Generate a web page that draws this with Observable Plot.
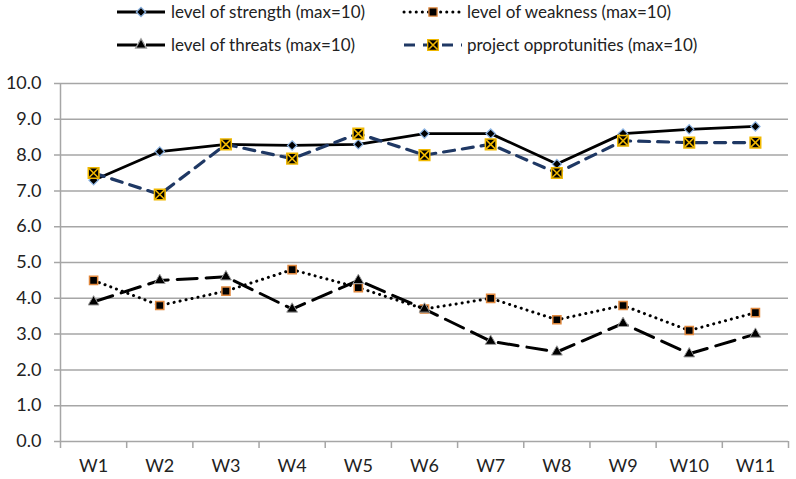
<!DOCTYPE html>
<html><head><meta charset="utf-8">
<script src="https://cdn.jsdelivr.net/npm/d3@7"></script>
<script src="https://cdn.jsdelivr.net/npm/@observablehq/plot@0.6"></script>
<style>
body{margin:0;background:#fff;font-family:Lato,sans-serif}
#wrap{position:relative;width:796px;height:479px}
#legend{position:absolute;left:0;top:0}
</style></head><body>
<div id="wrap"><div id="chart"></div><svg id="legend" width="796" height="62"></svg></div>
<script>
const weeks = ["W1","W2","W3","W4","W5","W6","W7","W8","W9","W10","W11"];
const strength = [7.3,8.1,8.3,8.27,8.3,8.6,8.6,7.75,8.6,8.72,8.8];
const weakness = [4.5,3.8,4.2,4.8,4.3,3.7,4.0,3.4,3.8,3.1,3.6];
const threats = [3.9,4.5,4.6,3.7,4.5,3.7,2.8,2.5,3.3,2.45,3.0];
const opportunities = [7.5,6.9,8.3,7.9,8.6,8.0,8.3,7.5,8.4,8.35,8.35];
const yTicks = [0,1,2,3,4,5,6,7,8,9,10];
const seriesNames = ["level of strength (max=10)","level of weakness (max=10)","level of threats (max=10)","project opprotunities (max=10)"];

const GRID = "#a6a6a6", NAVY = "#1f3864", YEL = "#f0b800";
const xi = (d,i) => i + 0.5;

const chart = Plot.plot({
  width: 796, height: 479,
  marginTop: 83, marginBottom: 38, marginLeft: 60, marginRight: 8,
  x: {domain: [0, 11], axis: null},
  y: {domain: [0, 10], axis: null},
  style: {fontFamily: "Lato, sans-serif", fontSize: "18px", color: "#222", background: "#fff"},
  marks: [
    Plot.ruleY(yTicks, {stroke: GRID, strokeWidth: 1.5, insetLeft: -6}),
    Plot.ruleX([0], {stroke: GRID, strokeWidth: 1.5}),
    Plot.axisX({ticks: d3.range(0, 12), tickSize: 7, tickFormat: () => "", stroke: GRID, strokeWidth: 1.5, strokeOpacity: 1, label: null}),
    Plot.text(yTicks, {x: 0, y: d => d, text: d => d.toFixed(1), textAnchor: "end", dx: -19, fontSize: 18, fill: "#222"}),
    Plot.text(weeks, {x: xi, y: 0, text: d => d, dy: 25, fontSize: 18, fill: "#222"}),
    // strength
    Plot.line(strength, {x: xi, y: d => d, stroke: "#000", strokeWidth: 2.8}),
    Plot.dot(strength, {x: xi, y: d => d, symbol: "diamond2", r: 4.2, fill: "#000", stroke: "#8db4e2", strokeWidth: 1.2}),
    // weakness
    Plot.line(weakness, {x: xi, y: d => d, stroke: "#000", strokeWidth: 3, strokeDasharray: "0.1 6", strokeLinecap: "round"}),
    Plot.dot(weakness, {x: xi, y: d => d, symbol: "square", r: 4.6, fill: "#000", stroke: "#e0883e", strokeWidth: 1.5}),
    // threats
    Plot.line(threats, {x: xi, y: d => d, stroke: "#000", strokeWidth: 3, strokeDasharray: "20 9"}),
    Plot.dot(threats, {x: xi, y: d => d, symbol: "triangle", r: 4, fill: "#000", stroke: "#9a9a9a", strokeWidth: 1}),
    // opportunities
    Plot.line(opportunities, {x: xi, y: d => d, stroke: NAVY, strokeWidth: 3.2, strokeDasharray: "11 8"}),
    Plot.dot(opportunities, {x: xi, y: d => d, symbol: "square", r: 6, fill: "#000", stroke: YEL, strokeWidth: 1.5}),
    Plot.dot(opportunities, {x: xi, y: d => d, symbol: "times", r: 4.2, stroke: YEL, strokeWidth: 1.6})
  ]
});
document.getElementById("chart").appendChild(chart);

// legend
const lg = d3.select("#legend");
const entries = [
  {name: seriesNames[0], x0: 117, x1: 165, tx: 171, y: 12, stroke: "#000", dash: null, cap: "butt", sym: d3.symbolDiamond2, size: Math.PI*4.2*4.2, fill: "#000", mstroke: "#8db4e2", sw: 2.8},
  {name: seriesNames[1], x0: 404, x1: 462, tx: 467, y: 12, stroke: "#000", dash: "0.1 6", cap: "round", sym: d3.symbolSquare, size: Math.PI*4.6*4.6, fill: "#000", mstroke: "#e0883e", sw: 3},
  {name: seriesNames[2], x0: 117, x1: 165, tx: 171, y: 45, stroke: "#000", dash: "20 9", cap: "butt", sym: d3.symbolTriangle, size: Math.PI*16, fill: "#000", mstroke: "#9a9a9a", sw: 3},
  {name: seriesNames[3], x0: 404, x1: 462, tx: 467, y: 45, stroke: NAVY, dash: "11 8", cap: "butt", sym: d3.symbolSquare, size: Math.PI*36, fill: "#000", mstroke: YEL, sw: 3.2, times: true}
];
for (const e of entries) {
  const cx = (e.x0 + e.x1) / 2;
  lg.append("line").attr("x1", e.x0).attr("x2", e.x1).attr("y1", e.y).attr("y2", e.y)
    .attr("stroke", e.stroke).attr("stroke-width", e.sw).attr("stroke-dasharray", e.dash).attr("stroke-linecap", e.cap);
  lg.append("path").attr("d", d3.symbol(e.sym, e.size)()).attr("transform", `translate(${cx},${e.y})`)
    .attr("fill", e.fill).attr("stroke", e.mstroke).attr("stroke-width", 1.3);
  if (e.times) lg.append("path").attr("d", d3.symbol(d3.symbolTimes, Math.PI*4.2*4.2)()).attr("transform", `translate(${cx},${e.y})`)
    .attr("fill", "none").attr("stroke", YEL).attr("stroke-width", 1.6);
  lg.append("text").attr("x", e.tx).attr("y", e.y).attr("dy", "0.35em").attr("font-family", "Lato, sans-serif")
    .attr("font-size", 17).attr("fill", "#222").text(e.name);
}
</script>
</body></html>
